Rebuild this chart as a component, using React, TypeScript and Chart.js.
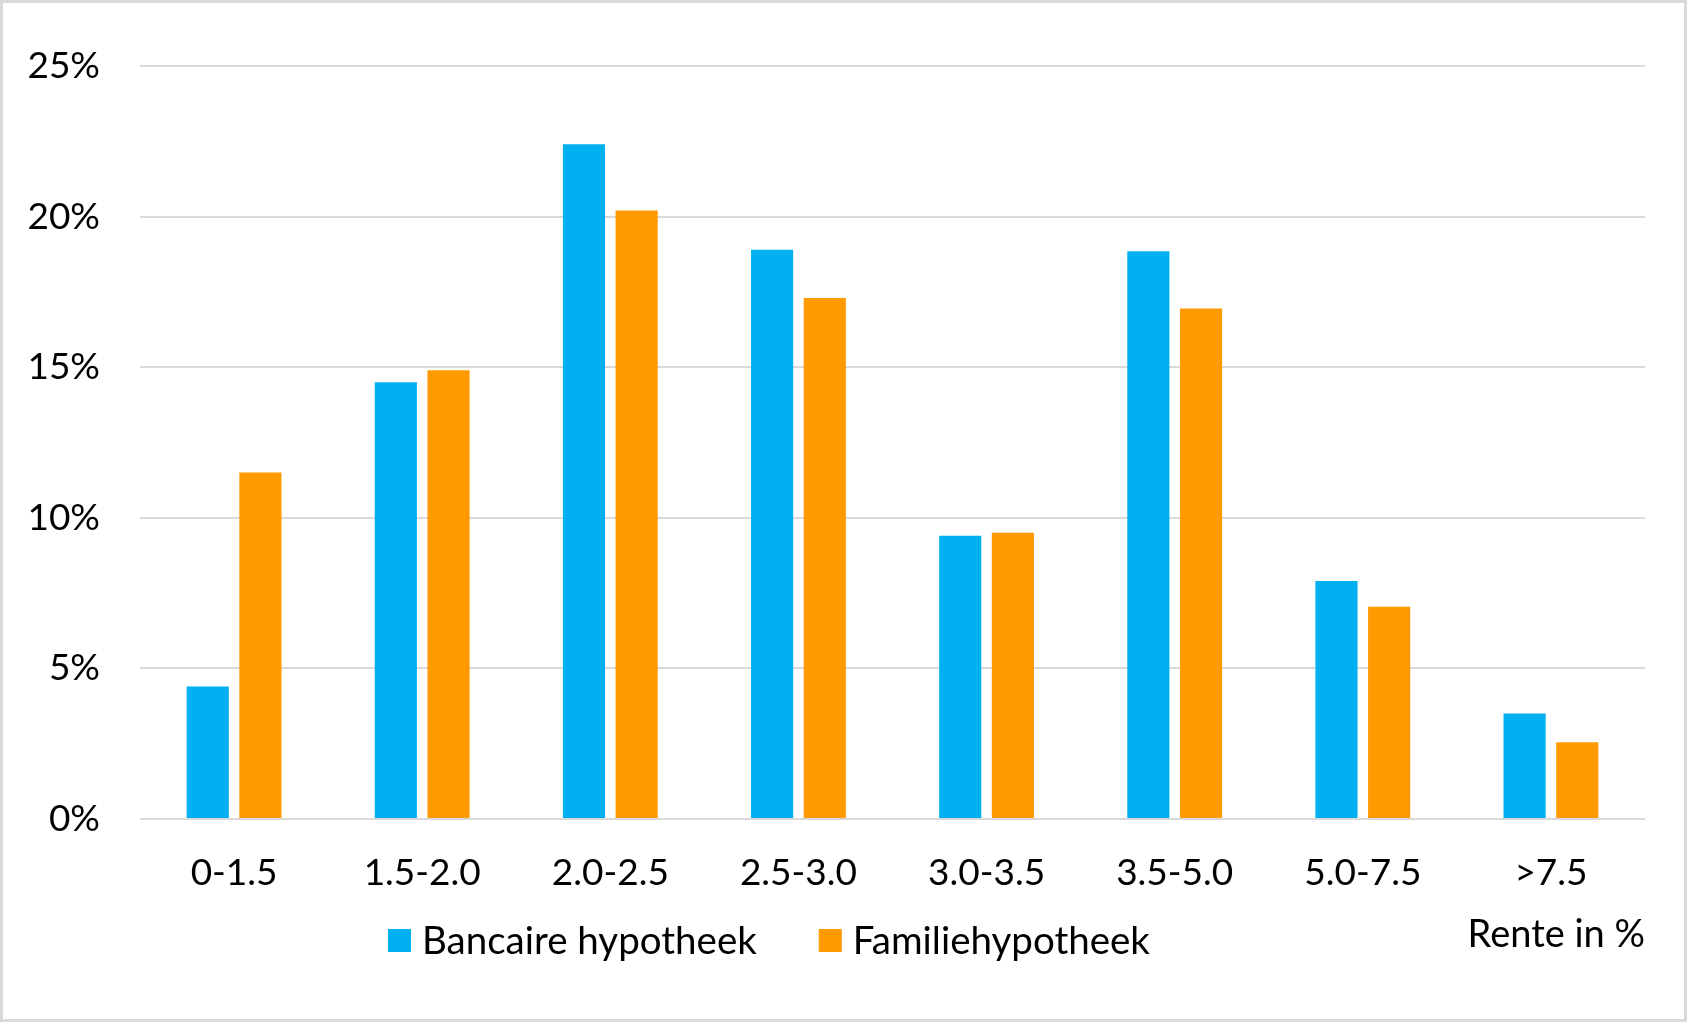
import React, { useEffect, useRef } from "react";
import { Chart, registerables } from "chart.js";

Chart.register(...registerables);

// Interest-rate buckets (in %) and the share of mortgages in each bucket
const categories = ["0-1.5", "1.5-2.0", "2.0-2.5", "2.5-3.0", "3.0-3.5", "3.5-5.0", "5.0-7.5", ">7.5"];
const bancaire = [4.4, 14.5, 22.4, 18.9, 9.4, 18.85, 7.9, 3.5];
const familie = [11.5, 14.9, 20.2, 17.3, 9.5, 16.95, 7.05, 2.55];
const seriesNames = ["Bancaire hypotheek", "Familiehypotheek"];
const seriesColors = ["#00B0F0", "#FF9A00"];
const yMin = 0;
const yMax = 25;
const yStep = 5;
const xAxisTitle = "Rente in %";

const FONT_FAMILY = "Lato, 'Open Sans', 'DejaVu Sans', sans-serif";
const FONT_SIZE = 37;
const LEGEND_FONT_SIZE = 38.5;

const W = 1687;
const H = 1022;
const FRAME = 3;

// Legend drawn below the axis labels, left of the axis title
const legendPlugin = {
  id: "bottomLegend",
  afterDraw(chart: any) {
    const { ctx, chartArea } = chart;
    const box = 23;
    const y = chartArea.bottom + 110;
    let x = chartArea.left + 248;
    ctx.save();
    ctx.font = `${LEGEND_FONT_SIZE}px ${FONT_FAMILY}`;
    ctx.textBaseline = "middle";
    ctx.textAlign = "left";
    chart.data.datasets.forEach((ds: any) => {
      ctx.fillStyle = ds.backgroundColor;
      ctx.fillRect(x, y, box, box);
      ctx.fillStyle = "#000";
      const tx = x + box + 11;
      ctx.fillText(ds.label, tx, y + box / 2 + 1);
      x = tx + ctx.measureText(ds.label).width + 62;
    });
    ctx.restore();
  },
};

export default function App() {
  const canvasRef = useRef<HTMLCanvasElement | null>(null);

  useEffect(() => {
    const canvas = canvasRef.current;
    if (!canvas) return;
    const font = { family: FONT_FAMILY, size: FONT_SIZE };
    const chart = new Chart(canvas, {
      type: "bar",
      data: {
        labels: categories,
        datasets: [
          {
            label: seriesNames[0],
            data: bancaire,
            backgroundColor: seriesColors[0],
            borderWidth: 0,
            categoryPercentage: 0.56,
            barPercentage: 0.8,
          },
          {
            label: seriesNames[1],
            data: familie,
            backgroundColor: seriesColors[1],
            borderWidth: 0,
            categoryPercentage: 0.56,
            barPercentage: 0.8,
          },
        ],
      },
      options: {
        animation: false,
        responsive: false,
        maintainAspectRatio: false,
        layout: { padding: { top: 63, right: 39, left: 0, bottom: 0 } },
        plugins: {
          legend: { display: false },
          tooltip: { enabled: false },
        },
        scales: {
          x: {
            grid: { display: false, drawTicks: false },
            border: { display: false },
            ticks: { font, color: "#000", padding: 32, maxRotation: 0 },
            title: {
              display: true,
              text: xAxisTitle,
              align: "end",
              color: "#000",
              font: { family: FONT_FAMILY, size: 38 },
              padding: { top: 0, bottom: 61 },
            },
            afterFit(scale: any) {
              scale.height = 200;
            },
          },
          y: {
            min: yMin,
            max: yMax,
            ticks: {
              stepSize: yStep,
              font,
              color: "#000",
              padding: 40,
              callback: (v: any) => `${v}%`,
            },
            grid: { color: "#D9D9D9", lineWidth: 2, drawTicks: false },
            border: { display: false },
            afterFit(scale: any) {
              scale.width = 137;
            },
          },
        },
      },
      plugins: [legendPlugin],
    });
    return () => chart.destroy();
  }, []);

  return (
    <div
      style={{
        position: "absolute",
        left: 0,
        top: 0,
        width: W,
        height: H,
        boxSizing: "border-box",
        border: `${FRAME}px solid #D9D9D9`,
        background: "#fff",
        overflow: "hidden",
      }}
    >
      <canvas
        ref={canvasRef}
        width={W - 2 * FRAME}
        height={H - 2 * FRAME}
        style={{ display: "block", width: W - 2 * FRAME, height: H - 2 * FRAME }}
      />
    </div>
  );
}
